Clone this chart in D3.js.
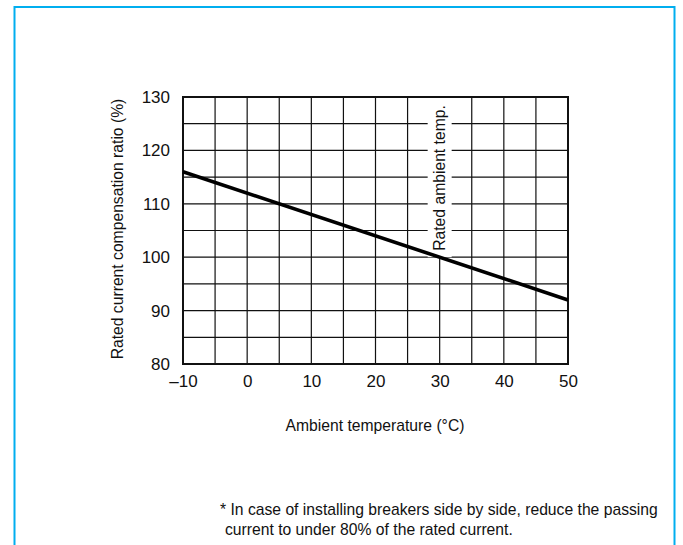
<!DOCTYPE html>
<html>
<head>
<meta charset="utf-8">
<script src="https://cdn.jsdelivr.net/npm/d3@7"></script>
<style>
  html, body { margin: 0; padding: 0; background: #fff; }
  svg { display: block; font-family: "Liberation Sans", Arial, Helvetica, sans-serif; }
</style>
</head>
<body>
<svg id="chart" width="683" height="545"></svg>
<script>
// ---- data ----
const temperatures = [-10, 50];          // ambient temperature (°C)
const ratios = [116, 92];                // rated current compensation ratio (%)
const xTicks = [-10, 0, 10, 20, 30, 40, 50];
const yTicks = [80, 90, 100, 110, 120, 130];
const xGrid = [-10, -5, 0, 5, 10, 15, 20, 25, 30, 35, 40, 45, 50];
const yGrid = [80, 85, 90, 95, 100, 105, 110, 115, 120, 125, 130];
const ratedTemp = 30;
const xTitle = "Ambient temperature (°C)";
const yTitle = "Rated current compensation ratio (%)";
const ratedLabel = "Rated ambient temp.";
const footnote = ["* In case of installing breakers side by side, reduce the passing",
                  "current to under 80% of the rated current."];

(function () {
const svg = d3.select("#chart");
const FS = 15.7, TFS = 17;

// panel border
svg.append("rect").attr("x", 14.5).attr("y", 7).attr("width", 660).attr("height", 560)
  .attr("fill", "none").attr("stroke", "#00aeef").attr("stroke-width", 2);

const pl = 183, pr = 568, pt = 97, pb = 364;
const x = d3.scaleLinear().domain([-10, 50]).range([pl, pr]);
const y = d3.scaleLinear().domain([80, 130]).range([pb, pt]);

const g = svg.append("g");

// grid
g.selectAll(".vg").data(xGrid).join("line")
  .attr("x1", d => x(d)).attr("x2", d => x(d))
  .attr("y1", y(80)).attr("y2", y(130))
  .attr("stroke", "#111").attr("stroke-width", 1.2);
g.selectAll(".hg").data(yGrid).join("line")
  .attr("x1", x(-10)).attr("x2", x(50))
  .attr("y1", d => y(d)).attr("y2", d => y(d))
  .attr("stroke", "#111").attr("stroke-width", 1.2);

// white background behind rated ambient label
const lx = x(ratedTemp), ly = 178;
g.append("rect")
  .attr("x", lx - 12).attr("y", pt + 1)
  .attr("width", 24).attr("height", y(100) - 1 - pt)
  .attr("fill", "#fff");
g.append("text")
  .attr("transform", `translate(${lx + 5.5},${ly}) rotate(-90)`)
  .attr("text-anchor", "middle")
  .attr("font-size", FS).attr("fill", "#111")
  .text(ratedLabel);

// plot frame
g.append("rect").attr("x", pl).attr("y", pt).attr("width", pr - pl).attr("height", pb - pt)
  .attr("fill", "none").attr("stroke", "#111").attr("stroke-width", 2);

// axes labels via d3 axes (no lines)
const xAxis = svg.append("g").attr("transform", `translate(0,${pb})`)
  .call(d3.axisBottom(x).tickValues(xTicks).tickSize(0).tickPadding(11).tickFormat(d => d < 0 ? "\u2013" + Math.abs(d) : d));
xAxis.select(".domain").remove();
xAxis.attr("font-size", TFS).attr("font-family", "Liberation Sans, Arial, sans-serif");
xAxis.selectAll("text").attr("fill", "#111");

const yAxis = svg.append("g").attr("transform", `translate(${pl},0)`)
  .call(d3.axisLeft(y).tickValues(yTicks).tickSize(0).tickPadding(13));
yAxis.select(".domain").remove();
yAxis.attr("font-size", TFS).attr("font-family", "Liberation Sans, Arial, sans-serif");
yAxis.selectAll("text").attr("fill", "#111");

// data line
const line = d3.line().x((d, i) => x(temperatures[i])).y(d => y(d));
g.append("path").datum(ratios).attr("d", line)
  .attr("fill", "none").attr("stroke", "#000").attr("stroke-width", 3.6);

// titles
svg.append("text").attr("x", 375).attr("y", 431).attr("text-anchor", "middle")
  .attr("font-size", FS).attr("fill", "#111").text(xTitle);
svg.append("text").attr("transform", `translate(123,229) rotate(-90)`).attr("text-anchor", "middle")
  .attr("font-size", FS).attr("fill", "#111").text(yTitle);

// footnote
svg.append("text").attr("x", 220).attr("y", 515).attr("font-size", FS).attr("fill", "#111").text(footnote[0]);
svg.append("text").attr("x", 225).attr("y", 535).attr("font-size", FS).attr("fill", "#111").text(footnote[1]);
})();
</script>
</body>
</html>
